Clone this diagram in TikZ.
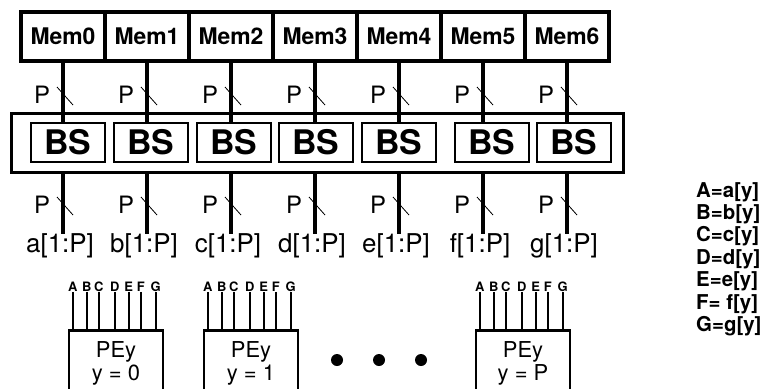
\documentclass[tikz,border=0pt]{standalone}
\usepackage{fontspec}
\setmainfont{TeX Gyre Heros}
\usetikzlibrary{calc}

\begin{document}
\begin{tikzpicture}[
    x=1bp, y=-1bp,
    text=black,
    membox/.style={draw=black, line width=4bp, minimum width=84bp, minimum height=49bp, inner sep=0pt, font=\bfseries\fontsize{23}{23}\selectfont},
    bsframe/.style={draw=black, line width=3bp, minimum width=611bp, minimum height=59bp, inner sep=0pt},
    bsbox/.style={draw=black, line width=2.5bp, minimum width=74bp, minimum height=39bp, inner sep=0pt, font=\bfseries\fontsize{34}{34}\selectfont},
    bus/.style={line width=4bp},
    tick/.style={line width=0.8bp},
    widthlabel/.style={inner sep=0pt, font=\fontsize{24}{24}\selectfont},
    buslabel/.style={inner sep=0pt, font=\fontsize{26}{26}\selectfont},
    pebox/.style={draw=black, line width=2.5bp, minimum width=94bp, minimum height=66bp, anchor=north, align=center, inner sep=0pt, font=\fontsize{22}{23}\selectfont},
    pinlabel/.style={inner sep=0pt, font=\bfseries\fontsize{13}{13}\selectfont},
    pin/.style={line width=2bp},
    dot/.style={circle, fill=black, minimum size=12bp, inner sep=0pt},
    legend/.style={align=left, inner sep=0pt, font=\bfseries\fontsize{20.5}{22.5}\selectfont}
]
\useasboundingbox (0,0) rectangle (765,388);

% ==================== MEMORIES ====================
\foreach \i in {0,...,6}
    \node[membox] (mem\i) at (63+84*\i, 36) {Mem\i};

% ==================== BARREL SHIFTERS ====================
\node[bsframe] (bsrow) at (317.5, 142.5) {};
\foreach \i/\bx in {0/68, 1/151, 2/234, 3/316, 4/399, 5/492, 6/574}
    \node[bsbox] (bs\i) at (\bx, 142.5) {BS};

% ==================== BUSES ====================
\foreach \i/\sig in {0/a, 1/b, 2/c, 3/d, 4/e, 5/f, 6/g}{
    % labels
    \node[widthlabel] (pin\i) at ($(mem\i.south |- 0,95)+(-21,0)$) {P};
    \node[widthlabel] (pout\i) at ($(mem\i.south |- 0,205)+(-21,0)$) {P};
    \node[buslabel] (out\i) at ($(mem\i.south |- 0,246)+(-3,0)$) {\sig[1:P]};

    % wires
    \draw[bus] (mem\i.south) -- (mem\i.south |- bs\i.north);
    \draw[bus] (mem\i.south |- bsrow.south) -- (mem\i.south |- out\i.north);

    % width ticks
    \draw[tick] ($(mem\i.south |- 0,87)+(-6,0)$) -- ++(16,18);
    \draw[tick] ($(mem\i.south |- 0,197)+(-6,0)$) -- ++(16,18);
}

% ==================== PROCESSING ELEMENTS ====================
\foreach \i/\px/\val in {0/116/0, 1/251/1, 2/523/P}{
    \node[pebox] (pe\i) at (\px, 329) {PEy\\y = \val};
    \foreach \pn/\dx in {A/5, B/19, C/31, D/47, E/61, F/73, G/88}{
        \node[pinlabel] (pe\i\pn) at ($(pe\i.north west)+(\dx,-42)$) {\pn};
        \draw[pin] (pe\i\pn.south) -- (pe\i\pn.south |- pe\i.north);
    }
}

% dots between PEs
\foreach \i/\dx in {0/337, 1/379, 2/421}
    \node[dot] (dot\i) at (\dx, 360) {};

% ==================== LEGEND ====================
\node[legend, anchor=north west] (key) at (696, 182)
    {A=a[y]\\B=b[y]\\C=c[y]\\D=d[y]\\E=e[y]\\F= f[y]\\G=g[y]};

\end{tikzpicture}
\end{document}
